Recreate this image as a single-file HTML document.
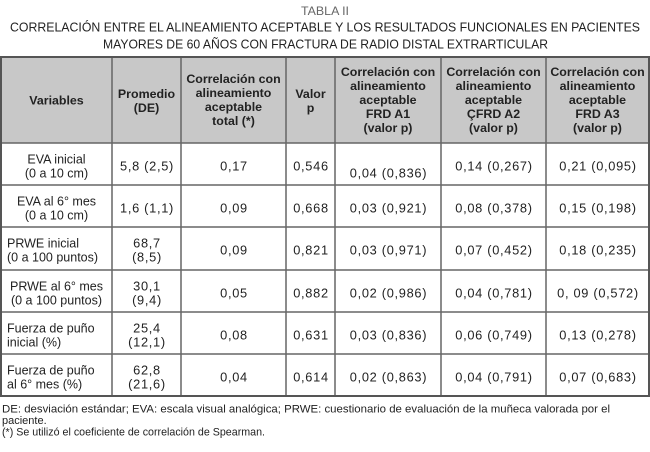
<!DOCTYPE html>
<html><head><meta charset="utf-8">
<style>
html,body{margin:0;padding:0;background:#fff;}
svg{display:block;}
.t{font-family:"Liberation Sans",sans-serif;fill:#222;}
.h{font-family:"Liberation Sans",sans-serif;font-weight:bold;font-size:12.4px;fill:#222;text-anchor:middle;}
.d{font-family:"Liberation Sans",sans-serif;font-size:12.5px;fill:#222;}
.n{font-family:"Liberation Sans",sans-serif;font-size:12.8px;fill:#222;text-anchor:middle;letter-spacing:0.7px;}
.c{text-anchor:middle;}
.f{font-family:"Liberation Sans",sans-serif;font-size:11px;fill:#222;}
</style></head>
<body>
<svg width="650" height="452" viewBox="0 0 650 452" xmlns="http://www.w3.org/2000/svg">
<!-- title -->
<text class="t" x="301" y="15" font-size="12" style="fill:#666" textLength="48" lengthAdjust="spacingAndGlyphs">TABLA II</text>
<text class="t" x="10" y="31.5" font-size="12.8" textLength="630" lengthAdjust="spacingAndGlyphs">CORRELACIÓN ENTRE EL ALINEAMIENTO ACEPTABLE Y LOS RESULTADOS FUNCIONALES EN PACIENTES</text>
<text class="t" x="103" y="48.5" font-size="12.8" textLength="445" lengthAdjust="spacingAndGlyphs">MAYORES DE 60 AÑOS CON FRACTURA DE RADIO DISTAL EXTRARTICULAR</text>

<!-- header background -->
<rect x="1" y="57" width="648" height="86" fill="#c8c8c8"/>

<!-- grid -->
<g stroke="#666" stroke-width="1.5" fill="none">
<line x1="1" y1="143" x2="649" y2="143"/>
<line x1="1" y1="185" x2="649" y2="185"/>
<line x1="1" y1="227" x2="649" y2="227"/>
<line x1="1" y1="270" x2="649" y2="270"/>
<line x1="1" y1="312" x2="649" y2="312"/>
<line x1="1" y1="354" x2="649" y2="354"/>
<line x1="112" y1="57" x2="112" y2="396"/>
<line x1="181" y1="57" x2="181" y2="396"/>
<line x1="286" y1="57" x2="286" y2="396"/>
<line x1="335" y1="57" x2="335" y2="396"/>
<line x1="441" y1="57" x2="441" y2="396"/>
<line x1="546" y1="57" x2="546" y2="396"/>
</g>
<rect x="1" y="57" width="648" height="339" fill="none" stroke="#555" stroke-width="2"/>

<!-- header text -->
<text class="h" x="56.5" y="104.5">Variables</text>
<text class="h" x="146.5" y="98">Promedio</text>
<text class="h" x="146.5" y="112">(DE)</text>
<text class="h" x="233.5" y="83">Correlación con</text>
<text class="h" x="233.5" y="97">alineamiento</text>
<text class="h" x="233.5" y="111">aceptable</text>
<text class="h" x="233.5" y="125">total (*)</text>
<text class="h" x="310.5" y="98">Valor</text>
<text class="h" x="310.5" y="112">p</text>

<text class="h" x="388" y="76">Correlación con</text>
<text class="h" x="388" y="90">alineamiento</text>
<text class="h" x="388" y="104">aceptable</text>
<text class="h" x="388" y="118">FRD A1</text>
<text class="h" x="388" y="132">(valor p)</text>

<text class="h" x="493.5" y="76">Correlación con</text>
<text class="h" x="493.5" y="90">alineamiento</text>
<text class="h" x="493.5" y="104">aceptable</text>
<text class="h" x="493.5" y="118">ÇFRD A2</text>
<text class="h" x="493.5" y="132">(valor p)</text>

<text class="h" x="597.5" y="76">Correlación con</text>
<text class="h" x="597.5" y="90">alineamiento</text>
<text class="h" x="597.5" y="104">aceptable</text>
<text class="h" x="597.5" y="118">FRD A3</text>
<text class="h" x="597.5" y="132">(valor p)</text>

<!-- row 1 -->
<text class="d c" x="56.5" y="163.5">EVA inicial</text>
<text class="d c" x="56.5" y="177.5">(0 a 10 cm)</text>
<text class="n" x="147" y="170.5">5,8 (2,5)</text>
<text class="n" x="234" y="170.5">0,17</text>
<text class="n" x="311" y="170.5">0,546</text>
<text class="n" x="388.5" y="177.5">0,04 (0,836)</text>
<text class="n" x="494" y="170.5">0,14 (0,267)</text>
<text class="n" x="598" y="170.5">0,21 (0,095)</text>

<!-- row 2 -->
<text class="d c" x="56.5" y="205.5">EVA al 6° mes</text>
<text class="d c" x="56.5" y="219.5">(0 a 10 cm)</text>
<text class="n" x="147" y="212.5">1,6 (1,1)</text>
<text class="n" x="234" y="212.5">0,09</text>
<text class="n" x="311" y="212.5">0,668</text>
<text class="n" x="388.5" y="212.5">0,03 (0,921)</text>
<text class="n" x="494" y="212.5">0,08 (0,378)</text>
<text class="n" x="598" y="212.5">0,15 (0,198)</text>

<!-- row 3 -->
<text class="d" x="7" y="247.5">PRWE inicial</text>
<text class="d" x="7" y="261.5">(0 a 100 puntos)</text>
<text class="n" x="147" y="247.5">68,7</text>
<text class="n" x="147" y="261.5">(8,5)</text>
<text class="n" x="234" y="254.5">0,09</text>
<text class="n" x="311" y="254.5">0,821</text>
<text class="n" x="388.5" y="254.5">0,03 (0,971)</text>
<text class="n" x="494" y="254.5">0,07 (0,452)</text>
<text class="n" x="598" y="254.5">0,18 (0,235)</text>

<!-- row 4 -->
<text class="d c" x="56.5" y="290.5">PRWE al 6° mes</text>
<text class="d c" x="56.5" y="304.5">(0 a 100 puntos)</text>
<text class="n" x="147" y="290.5">30,1</text>
<text class="n" x="147" y="304.5">(9,4)</text>
<text class="n" x="234" y="297.5">0,05</text>
<text class="n" x="311" y="297.5">0,882</text>
<text class="n" x="388.5" y="297.5">0,02 (0,986)</text>
<text class="n" x="494" y="297.5">0,04 (0,781)</text>
<text class="n" x="598" y="297.5">0, 09 (0,572)</text>

<!-- row 5 -->
<text class="d" x="7" y="332.5">Fuerza de puño</text>
<text class="d" x="7" y="346.5">inicial (%)</text>
<text class="n" x="147" y="332.5">25,4</text>
<text class="n" x="147" y="346.5">(12,1)</text>
<text class="n" x="234" y="339.5">0,08</text>
<text class="n" x="311" y="339.5">0,631</text>
<text class="n" x="388.5" y="339.5">0,03 (0,836)</text>
<text class="n" x="494" y="339.5">0,06 (0,749)</text>
<text class="n" x="598" y="339.5">0,13 (0,278)</text>

<!-- row 6 -->
<text class="d" x="7" y="374.5">Fuerza de puño</text>
<text class="d" x="7" y="388.5">al 6° mes (%)</text>
<text class="n" x="147" y="374.5">62,8</text>
<text class="n" x="147" y="388.5">(21,6)</text>
<text class="n" x="234" y="381.5">0,04</text>
<text class="n" x="311" y="381.5">0,614</text>
<text class="n" x="388.5" y="381.5">0,02 (0,863)</text>
<text class="n" x="494" y="381.5">0,04 (0,791)</text>
<text class="n" x="598" y="381.5">0,07 (0,683)</text>

<!-- footnotes -->
<text class="f" x="2" y="412.5" textLength="608" lengthAdjust="spacingAndGlyphs">DE: desviación estándar; EVA: escala visual analógica; PRWE: cuestionario de evaluación de la muñeca valorada por el</text>
<text class="f" x="2" y="424">paciente.</text>
<text class="f" x="2" y="435.5" textLength="263" lengthAdjust="spacingAndGlyphs">(*) Se utilizó el coeficiente de correlación de Spearman.</text>
</svg>
</body></html>
